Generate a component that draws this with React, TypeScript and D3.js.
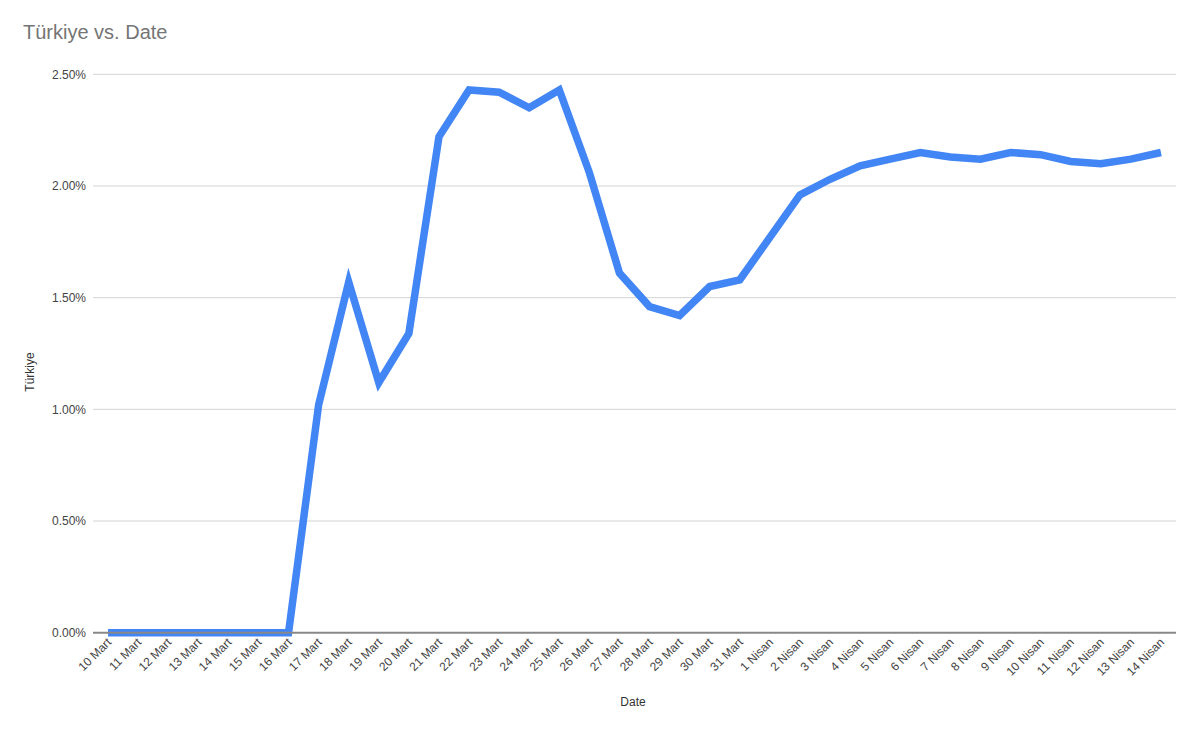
import React from "react";
import * as d3 from "d3";

const dates: string[] = [
  "10 Mart", "11 Mart", "12 Mart", "13 Mart", "14 Mart", "15 Mart", "16 Mart",
  "17 Mart", "18 Mart", "19 Mart", "20 Mart", "21 Mart", "22 Mart", "23 Mart",
  "24 Mart", "25 Mart", "26 Mart", "27 Mart", "28 Mart", "29 Mart", "30 Mart",
  "31 Mart", "1 Nisan", "2 Nisan", "3 Nisan", "4 Nisan", "5 Nisan", "6 Nisan",
  "7 Nisan", "8 Nisan", "9 Nisan", "10 Nisan", "11 Nisan", "12 Nisan", "13 Nisan",
  "14 Nisan",
];

const turkiye: number[] = [
  0, 0, 0, 0, 0, 0, 0,
  1.02, 1.57, 1.12, 1.34, 2.22, 2.43, 2.42,
  2.35, 2.43, 2.06, 1.61, 1.46, 1.42, 1.55,
  1.58, 1.77, 1.96, 2.03, 2.09, 2.12, 2.15,
  2.13, 2.12, 2.15, 2.14, 2.11, 2.10, 2.12,
  2.15,
];

const yTicks: number[] = [0, 0.5, 1.0, 1.5, 2.0, 2.5];

const title = "Türkiye vs. Date";
const xTitle = "Date";
const yTitle = "Türkiye";

export default function App() {
  const W = 1200;
  const H = 729;
  const left = 93;
  const right = 1176;
  const top = 74.3;
  const bottom = 632.7;

  const x = d3.scalePoint<string>().domain(dates).range([left, right]).padding(0.5);
  const y = d3.scaleLinear().domain([0, 2.5]).range([bottom, top]);

  const line = d3
    .line<number>()
    .x((_, i) => x(dates[i]) as number)
    .y((d) => y(d));

  const font = "Arial, 'Liberation Sans', sans-serif";

  return (
    <svg
      width={W}
      height={H}
      style={{ position: "absolute", left: 0, top: 0, background: "#fff" }}
      fontFamily={font}
    >
      <rect x={0} y={0} width={W} height={H} fill="#fff" />
      <text x={23} y={39} fontSize={20} fill="#757575">
        {title}
      </text>

      {yTicks.map((t) => (
        <g key={t}>
          {t !== 0 && (
            <line x1={left} x2={right} y1={y(t)} y2={y(t)} stroke="#d4d4d4" strokeWidth={1} />
          )}
          <text x={86} y={y(t)} dy="0.35em" textAnchor="end" fontSize={12} fill="#444">
            {t.toFixed(2) + "%"}
          </text>
        </g>
      ))}

      <path
        d={line(turkiye) || ""}
        fill="none"
        stroke="#4285F4"
        strokeWidth={7.5}
        strokeLinejoin="miter"
        strokeLinecap="butt"
      />

      <line x1={left} x2={right} y1={bottom} y2={bottom} stroke="#888" strokeWidth={2} />

      {dates.map((d) => {
        const px = (x(d) as number) + 4;
        const py = 643;
        return (
          <text
            key={d}
            x={px}
            y={py}
            transform={`rotate(-45 ${px} ${py})`}
            textAnchor="end"
            fontSize={12}
            fill="#444"
          >
            {d}
          </text>
        );
      })}

      <text x={633} y={706} textAnchor="middle" fontSize={12} fill="#333">
        {xTitle}
      </text>
      <text
        x={34}
        y={372}
        transform="rotate(-90 34 372)"
        textAnchor="middle"
        fontSize={12}
        fill="#333"
      >
        {yTitle}
      </text>
    </svg>
  );
}
